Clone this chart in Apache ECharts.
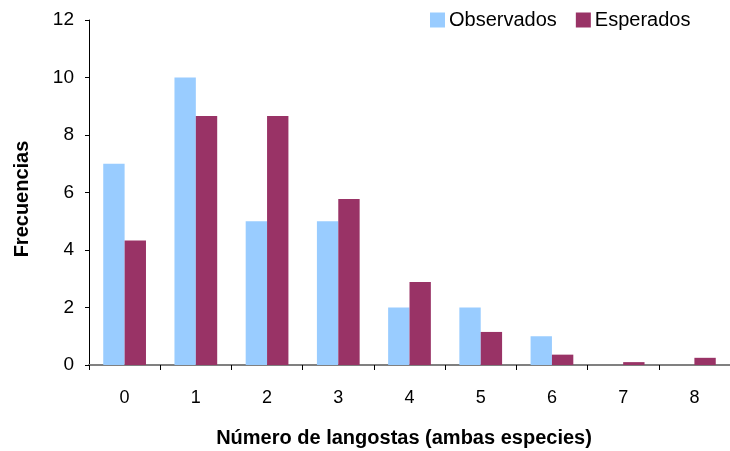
<!DOCTYPE html>
<html>
<head>
<meta charset="utf-8">
<script src="https://cdn.jsdelivr.net/npm/echarts@6/dist/echarts.min.js"></script>
<style>
  html, body { margin: 0; padding: 0; background: #fff; }
  #chart { width: 730px; height: 451px; }
</style>
</head>
<body>
<div id="chart"></div>
<script>
// Número de langostas por trampa: frecuencias observadas y esperadas
const categories = ['0', '1', '2', '3', '4', '5', '6', '7', '8'];
const observados = [7, 10, 5, 5, 2, 2, 1, 0, 0];
const esperados = [4.33, 8.66, 8.66, 5.77, 2.89, 1.15, 0.36, 0.1, 0.25];
const yTicks = { min: 0, max: 12, interval: 2 };

const FONT = '"Liberation Sans", Arial, sans-serif';

const chart = echarts.init(document.getElementById('chart'), null, { renderer: 'canvas' });

chart.setOption({
  backgroundColor: '#ffffff',
  animation: false,
  textStyle: { fontFamily: FONT, color: '#000' },
  legend: {
    left: 425,
    top: 5,
    icon: 'rect',
    itemWidth: 15,
    itemHeight: 15,
    itemGap: 19,
    textStyle: { fontFamily: FONT, fontSize: 20, color: '#000', padding: [0, 0, 0, -1] },
    data: ['Observados', 'Esperados']
  },
  grid: {
    left: 89,
    top: 20,
    width: 651,
    height: 345,
    containLabel: false
  },
  xAxis: {
    type: 'category',
    data: categories,
    boundaryGap: true,
    axisLine: { show: true, lineStyle: { color: '#808080', width: 2 } },
    axisTick: { show: true, length: 5, inside: false, lineStyle: { color: '#000', width: 1 } },
    axisLabel: { fontFamily: FONT, fontSize: 18, color: '#000', margin: 24 },
    splitLine: { show: false }
  },
  yAxis: {
    type: 'value',
    min: yTicks.min,
    max: yTicks.max,
    interval: yTicks.interval,
    axisLine: { show: true, lineStyle: { color: '#000', width: 1 } },
    axisTick: { show: true, length: 4, inside: false, lineStyle: { color: '#000' } },
    axisLabel: { fontFamily: FONT, fontSize: 19, color: '#000', margin: 15 },
    splitLine: { show: false }
  },
  series: [
    {
      name: 'Observados',
      type: 'bar',
      data: observados,
      barWidth: '30%',
      barGap: '0%',
      itemStyle: { color: '#99CCFF' }
    },
    {
      name: 'Esperados',
      type: 'bar',
      data: esperados,
      barWidth: '30%',
      barGap: '0%',
      itemStyle: { color: '#993366' }
    }
  ],
  graphic: [
    {
      type: 'text',
      x: 404,
      y: 438,
      style: {
        text: 'Número de langostas (ambas especies)',
        font: 'bold 20px ' + FONT,
        fill: '#000',
        align: 'center',
        verticalAlign: 'middle'
      }
    },
    {
      type: 'text',
      rotation: Math.PI / 2,
      x: 22,
      y: 199,
      style: {
        text: 'Frecuencias',
        font: 'bold 20px ' + FONT,
        fill: '#000',
        align: 'center',
        verticalAlign: 'middle'
      }
    }
  ]
});
</script>
</body>
</html>
